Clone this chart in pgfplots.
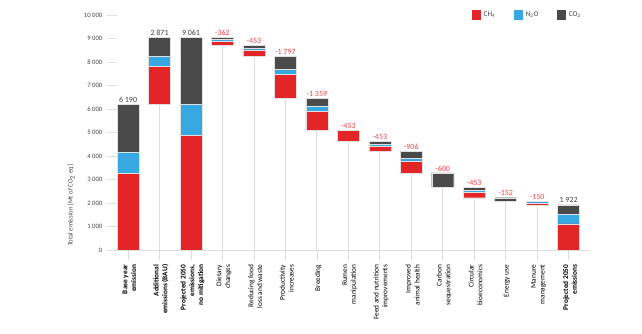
\documentclass[border=0pt]{standalone}
\usepackage{pgfplots}
\pgfplotsset{compat=1.18}
\usepackage{pgfplotstable}
\usepackage{fontspec}
\setmainfont{Carlito}
\definecolor{ch4}{HTML}{E42528}
\definecolor{n2o}{HTML}{37A9E0}
\definecolor{co2}{HTML}{4A4A4A}
\definecolor{labred}{HTML}{EE4347}
\definecolor{txt}{HTML}{444444}
\definecolor{lgrey}{HTML}{DDDDDD}

\pgfplotstableread{
x base ch4 n2o co2
1 0 3250 910 2030
2 6190 1625 425 821
3 0 4875 1335 2851
4 8699 192 70 100
5 8246 268 65 120
6 6449 1017 209 571
7 5090 804 236 319
8 4637 453 0 0
9 4184 226 71 156
10 3278 494 124 288
11 2678 0 0 600
12 2225 233 91 129
13 2073 0 0 152
14 1923 75 75 0
15 0 1113 394 415
}\bars

\pgfplotstableread{
x base
2 6190
4 8699
5 8246
6 6449
7 5090
8 4637
9 4184
10 3278
11 2678
12 2225
13 2073
14 1923
}\conn

\begin{document}
\begin{tikzpicture}
\begin{axis}[
  scale only axis, width=362.25pt, height=176.25pt,
  xmin=0.33, xmax=15.68, ymin=0, ymax=10000,
  axis x line*=bottom, axis y line*=left,
  y axis line style={draw=none},
  x axis line style={draw=lgrey, line width=0.6pt},
  xtick={1,...,15},
  ytick={0,1000,...,10000},
  scaled y ticks=false,
  xtick align=outside, ytick align=inside,
  xtick style={draw=lgrey, line width=0.5pt},
  ytick style={draw=lgrey, line width=0.5pt},
  major tick length=7.5pt,
  /pgf/number format/assume math mode=true,
  /pgf/number format/1000 sep={\ },
  yticklabel style={font=\fontsize{5}{6}\selectfont, text=txt},
  xticklabel style={rotate=90, anchor=east, align=right, font=\fontsize{5.5}{6.6}\selectfont, text=black, yshift=-1pt},
  xticklabels={
    {\textbf{Base year}\\\textbf{emission}},
    {\textbf{Additional}\\\textbf{emissions (BAU)}},
    {\textbf{Projected 2050}\\\textbf{emissions,}\\\textbf{no mitigation}},
    {Dietary\\changes},
    {Reducing food\\loss and waste},
    {Productivity\\increases},
    {Breeding},
    {Rumen\\manipulation},
    {Feed and nutrition\\improvements},
    {Improved\\animal health},
    {Carbon\\sequestration},
    {Circular\\bioeconomics},
    {Energy use},
    {Manure\\management},
    {\textbf{Projected 2050}\\\textbf{emissions}}
  },
  ylabel={Total emission [Mt of CO\textsubscript{2} eq]},
  ylabel style={at={(axis description cs:-0.074,0.19)}, anchor=center, font=\fontsize{5}{6}\selectfont, text=txt},
  clip=false
]
\addplot[ycomb, draw=lgrey, line width=0.6pt, mark=none] table[x=x,y=base] {\conn};
\addplot[draw=none, mark=none, nodes near coords, point meta=explicit symbolic,
  nodes near coords style={font=\fontsize{6}{7}\selectfont, text=txt, anchor=south, inner sep=1.2pt}]
  coordinates {(1,6190)[6 190] (2,9061)[2 871] (3,9061)[9 061] (15,1922)[1 922]};
\addplot[draw=none, mark=none, nodes near coords, point meta=explicit symbolic,
  nodes near coords style={font=\fontsize{6}{7}\selectfont, text=labred, anchor=south, inner sep=1.2pt}]
  coordinates {(4,9061)[-362] (5,8699)[-453] (6,8246)[-1 797] (7,6449)[-1 359] (8,5090)[-453] (9,4637)[-453] (10,4184)[-906] (11,3278)[-600] (12,2678)[-453] (13,2225)[-152] (14,2073)[-150]};
\end{axis}
\begin{axis}[
  scale only axis, width=362.25pt, height=176.25pt,
  xmin=0.33, xmax=15.68, ymin=0, ymax=10000,
  hide axis,
  ybar stacked, bar width=16.5pt,
  legend image code/.code={\path[#1,draw=none] (0pt,-3.4pt) rectangle (6.75pt,3.4pt);},
  legend style={at={(rel axis cs:0.755,1.0)}, anchor=west, legend columns=3, draw=none, fill=none,
    inner sep=0pt, font=\fontsize{5.5}{6.5}\selectfont, text=txt,
    /tikz/every even column/.append style={column sep=12pt}},
]
\addplot[fill=none, draw=none, forget plot] table[x=x,y=base] {\bars};
\addplot[fill=ch4, draw=white!88!black, line width=0.3pt] table[x=x,y=ch4] {\bars};
\addplot[fill=n2o, draw=white!88!black, line width=0.3pt] table[x=x,y=n2o] {\bars};
\addplot[fill=co2, draw=white!88!black, line width=0.3pt] table[x=x,y=co2] {\bars};
\legend{CH\textsubscript{4}, N\textsubscript{2}O, CO\textsubscript{2}}
\coordinate (bl) at (rel axis cs:0,0);
\coordinate (tr) at (rel axis cs:1,1);
\end{axis}
\pgfresetboundingbox
\path[use as bounding box] ([shift={(-80.25pt,-63pt)}]bl) rectangle ([shift={(39pt,11.25pt)}]tr);
\end{tikzpicture}
\end{document}
